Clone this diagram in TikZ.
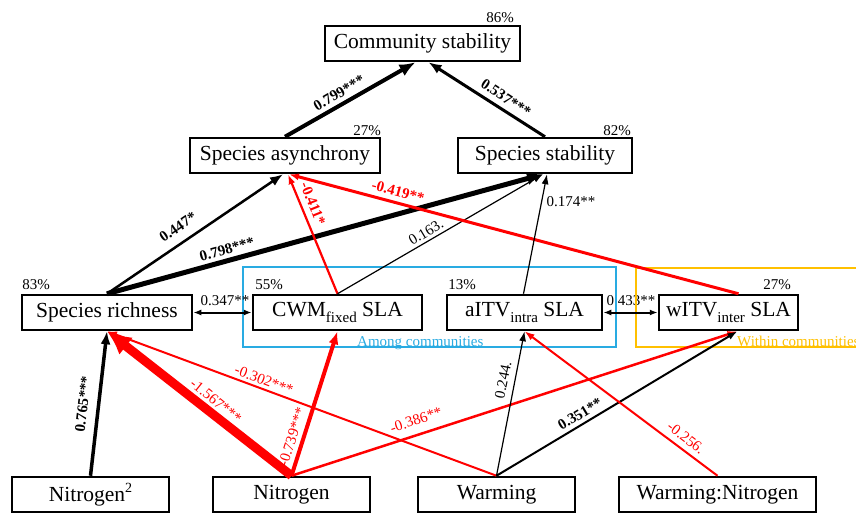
\documentclass[tikz,border=0pt]{standalone}
\usepackage{fontspec}
\setmainfont{Liberation Serif}
\usetikzlibrary{arrows.meta}
\definecolor{ablue}{HTML}{29ABE2}
\definecolor{aorange}{HTML}{FFC000}
\newcommand{\mysub}[1]{\raisebox{-0.28em}{\fontsize{15}{15}\selectfont #1}}
\newcommand{\mysup}[1]{\raisebox{0.42em}{\fontsize{14}{14}\selectfont #1}}
\begin{document}
\begin{tikzpicture}[x=1pt,y=-1pt,
  box/.style={draw, line width=2.5pt, inner sep=0pt, minimum height=35pt,
    font=\fontsize{21.5}{24}\selectfont},
  pct/.style={font=\fontsize{15}{17}\selectfont, inner sep=0pt},
  lab/.style={font=\fontsize{15}{17}\selectfont, inner sep=0pt},
  blab/.style={font=\fontsize{15}{17}\selectfont\bfseries, inner sep=0pt},
  grp/.style={line width=1.5pt},
  tipS/.style={-{Latex[length=10pt,width=7pt]}},
  tipM/.style={-{Latex[length=13pt,width=10pt]}},
  tipL/.style={-{Latex[length=16pt,width=13pt]}},
  tipXL/.style={-{Latex[length=24pt,width=22pt]}},
  dbl/.style={{Latex[length=8pt,width=6pt]}-{Latex[length=8pt,width=6pt]}, line width=2pt}
]
\useasboundingbox (0,0) rectangle (856,513);

% label hidden partly by the group box
\node[lab] (l18) at (631,301) {0.433**};

% group boxes
\draw[grp, ablue] (243,267) rectangle (616,347);
\draw[grp, aorange] (636,268) rectangle (880,347);
\node[font=\fontsize{15}{17}\selectfont, text=ablue, anchor=base west, inner sep=0pt] (gA) at (357,346) {Among communities};
\node[font=\fontsize{15}{17}\selectfont, text=aorange, anchor=base west, inner sep=0pt] (gW) at (737,346) {Within communities};

% nodes
\node[box, minimum width=195pt] (CS) at (422.5,43.5) {Community stability};
\node[box, minimum width=190pt] (SA) at (285,155.5) {Species asynchrony};
\node[box, minimum width=174pt] (SS) at (545,155.5) {Species stability};
\node[box, minimum width=170pt] (SR) at (107,312.5) {Species richness};
\node[box, minimum width=169pt] (CWM) at (337.5,312.5) {CWM\mysub{fixed} SLA};
\node[box, minimum width=155pt] (AI) at (524.5,312.5) {aITV\mysub{intra} SLA};
\node[box, minimum width=139pt] (WI) at (728.5,312.5) {wITV\mysub{inter} SLA};
\node[box, minimum width=157pt] (N2) at (90.5,494.5) {Nitrogen\mysup{2}};
\node[box, minimum width=157pt] (N) at (291.5,494.5) {Nitrogen};
\node[box, minimum width=157pt] (W) at (496.5,494.5) {Warming};
\node[box, minimum width=197pt] (WN) at (717.5,494.5) {Warming:Nitrogen};

% percentages
\node[pct] (pCS) at (500,18) {86\%};
\node[pct] (pSA) at (367,131) {27\%};
\node[pct] (pSS) at (617,131) {82\%};
\node[pct] (pSR) at (36,285) {83\%};
\node[pct] (pCWM) at (269,285) {55\%};
\node[pct] (pAI) at (462,285) {13\%};
\node[pct] (pWI) at (777,285) {27\%};

% connectors
\draw[tipL, line width=4pt] (SA.north) -- ([xshift=-7pt]CS.south);
\draw[tipM, line width=3pt] (SS.north) -- ([xshift=6pt]CS.south);
\draw[tipM, line width=2.5pt] (SR.north) -- ([xshift=-2pt]SA.south);
\draw[tipL, line width=5pt] (SR.north) -- ([xshift=-2pt]SS.south);
\draw[tipS, line width=2.2pt, red] (CWM.north) -- ([xshift=3pt]SA.south);
\draw[tipS, line width=1.2pt] (CWM.north) -- ([xshift=-2pt]SS.south);
\draw[tipS, line width=3pt, red] ([xshift=10pt]WI.north) -- ([xshift=4pt]SA.south);
\draw[tipS, line width=1.2pt] ([xshift=-1pt]AI.north) -- ([xshift=2pt]SS.south);
\draw[tipM, line width=3.5pt] (N2.north) -- (SR.south);
\draw[tipXL, line width=9pt, red] (N.north) -- (SR.south);
\draw[tipM, line width=4pt, red] (N.north) -- (CWM.south);
\draw[tipS, line width=2.5pt, red] (N.north) -- ([xshift=9pt]WI.south);
\draw[tipS, line width=2pt, red] (W.north) -- (SR.south);
\draw[tipS, line width=1.2pt] (W.north) -- (AI.south);
\draw[tipS, line width=2pt] (W.north) -- ([xshift=9pt]WI.south);
\draw[tipS, line width=2pt, red] (WN.north) -- (AI.south);
\draw[dbl] (SR.east) -- (CWM.west);
\draw[dbl] (AI.east) -- (WI.west);

% coefficient labels
\node[blab, rotate=30.3] (l1) at (339,93) {0.799***};
\node[blab, rotate=-33] (l2) at (506,98) {0.537***};
\node[blab, rotate=34.3] (l3) at (178,227) {0.447*};
\node[blab, rotate=15.4] (l4) at (227,249) {0.798***};
\node[blab, red, rotate=-68.1] (l5) at (313,204) {-0.411*};
\node[lab, rotate=31] (l6) at (426,232) {0.163.};
\node[blab, red, rotate=-15.2] (l7) at (398,192) {-0.419**};
\node[lab] (l8) at (571,202) {0.174**};
\node[blab, rotate=83.3] (l9) at (83,404) {0.765***};
\node[lab, red, rotate=-38.8] (l10) at (216,401) {-1.567***};
\node[lab, red, rotate=72.3] (l11) at (292,437) {-0.739***};
\node[lab, red, rotate=18.2] (l12) at (416,420) {-0.386**};
\node[lab, red, rotate=-20.75] (l13) at (264,380) {-0.302***};
\node[lab, rotate=78.5] (l14) at (503,380) {0.244.};
\node[blab, rotate=31.3] (l15) at (580,414) {0.351**};
\node[lab, red, rotate=-37.7] (l16) at (686,438) {-0.256.};
\node[lab] (l17) at (225,301) {0.347**};
\end{tikzpicture}
\end{document}
